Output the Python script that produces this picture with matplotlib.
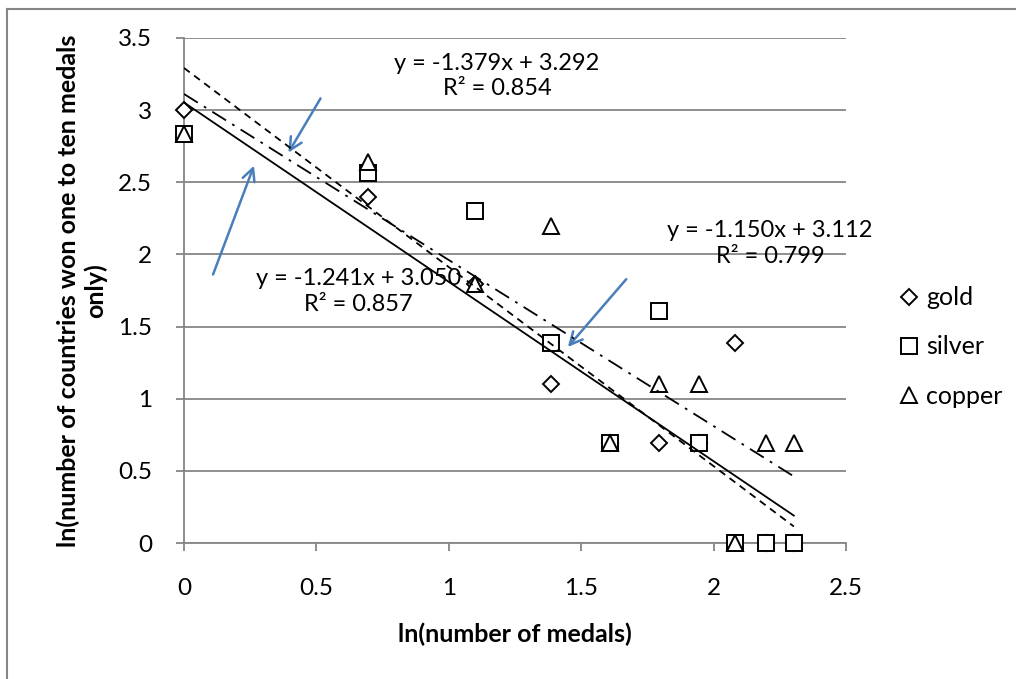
import numpy as np
import matplotlib
matplotlib.use('Agg')
import matplotlib.pyplot as plt
from matplotlib.lines import Line2D

plt.rcParams['font.family'] = ['Lato', 'DejaVu Sans']

# ln(number of medals) for 1..10 medals
ln_medals = [0.0, 0.693, 1.099, 1.386, 1.609, 1.792, 1.946, 2.079, 2.197, 2.303]

# ln(number of countries) that won exactly that many medals
gold = [3.0, 2.398, 1.792, 1.099, 0.693, 0.693, 0.693, 1.386, 0.0, 0.0]
silver = [2.833, 2.565, 2.303, 1.386, 0.693, 1.609, 0.693, 0.0, 0.0, 0.0]
copper = [2.833, 2.639, 1.792, 2.197, 0.693, 1.099, 1.099, 0.0, 0.693, 0.693]

series_names = ['gold', 'silver', 'copper']
equations = ['y = -1.241x + 3.050\nR² = 0.857',
             'y = -1.379x + 3.292\nR² = 0.854',
             'y = -1.150x + 3.112\nR² = 0.799']

fig = plt.figure(figsize=(10.16, 6.79), dpi=100)
ax = fig.add_axes([184 / 1016, 1 - 543 / 679, (846 - 184) / 1016, (543 - 38) / 679])

grid_col = '#868686'
markers = ['D', 's', '^']
sizes = [8.5, 12, 12]
styles = ['-', (0, (4, 3)), (0, (9, 4, 1.5, 4))]

x = np.array(ln_medals)
for name, ys, m, ms in zip(series_names, [gold, silver, copper], markers, sizes):
    ax.plot(x, ys, linestyle='none', marker=m, markersize=ms, markerfacecolor='white',
            markeredgecolor='black', markeredgewidth=1.4, label=name, zorder=3,
            clip_on=False)

# Linear trendlines
for ys, ls in zip([gold, silver, copper], styles):
    slope, intercept = np.polyfit(x, ys, 1)
    xs = np.array([x.min(), x.max()])
    ax.plot(xs, slope * xs + intercept, color='black', linestyle=ls, linewidth=1.3, zorder=4)

# Axes styling
ax.set_xlim(0, 2.5)
ax.set_ylim(0, 3.5)
ax.set_xticks(np.arange(0, 2.51, 0.5))
ax.set_yticks(np.arange(0, 3.51, 0.5))
ax.set_xticklabels(['0', '0.5', '1', '1.5', '2', '2.5'])
ax.set_yticklabels(['0', '0.5', '1', '1.5', '2', '2.5', '3', '3.5'])
ax.yaxis.grid(True, color=grid_col, linewidth=1.3)
ax.set_axisbelow(True)
for s in ['top', 'right']:
    ax.spines[s].set_visible(False)
for s in ['left', 'bottom']:
    ax.spines[s].set_color(grid_col)
    ax.spines[s].set_linewidth(1.3)
ax.tick_params(axis='both', colors=grid_col, length=6, width=1.3, labelcolor='black',
               labelsize=17.5)
ax.tick_params(axis='x', pad=19)
ax.tick_params(axis='y', pad=17)

ax.set_xlabel('ln(number of medals)', fontsize=18, fontweight='bold', labelpad=17)
ax.set_ylabel('ln(number of countries won one to ten medals\nonly)', fontsize=18,
              fontweight='bold', labelpad=8, linespacing=1.15)

# Equation labels
eq_style = dict(ha='center', va='center', fontsize=17, multialignment='center',
                linespacing=1.25)
ax.text(0.659, 1.743, equations[0], **eq_style)
ax.text(1.182, 3.235, equations[1], **eq_style)
ax.text(2.213, 2.075, equations[2], **eq_style)

# Blue arrows pointing to the trendlines
arrow = dict(arrowstyle='->,head_length=0.9,head_width=0.45', color='#4a7ebb', lw=1.8)
ax.annotate('', xy=(0.389, 2.689), xytext=(0.521, 3.098), arrowprops=arrow)
ax.annotate('', xy=(0.268, 2.633), xytext=(0.106, 1.843), arrowprops=arrow)
ax.annotate('', xy=(1.443, 1.344), xytext=(1.677, 1.843), arrowprops=arrow)

# Legend
handles = [Line2D([], [], linestyle='none', marker=m, markersize=ms, markerfacecolor='white',
                  markeredgecolor='black', markeredgewidth=1.4)
           for m, ms in zip(markers, sizes)]
fig.legend(handles, series_names, loc='center left', bbox_to_anchor=(886 / 1016, 1 - 347 / 679),
           frameon=False, fontsize=18, handlelength=0.8, handletextpad=0.3,
           labelspacing=1.05, borderpad=0)

# Chart border (top and left edges visible)
fig.add_artist(Line2D([7 / 1016, 7 / 1016], [0, 1 - 8.5 / 679], color=grid_col, lw=1.5))
fig.add_artist(Line2D([7 / 1016, 1], [1 - 8.5 / 679, 1 - 8.5 / 679], color=grid_col, lw=1.5))

fig.savefig('out.png', dpi=100)
